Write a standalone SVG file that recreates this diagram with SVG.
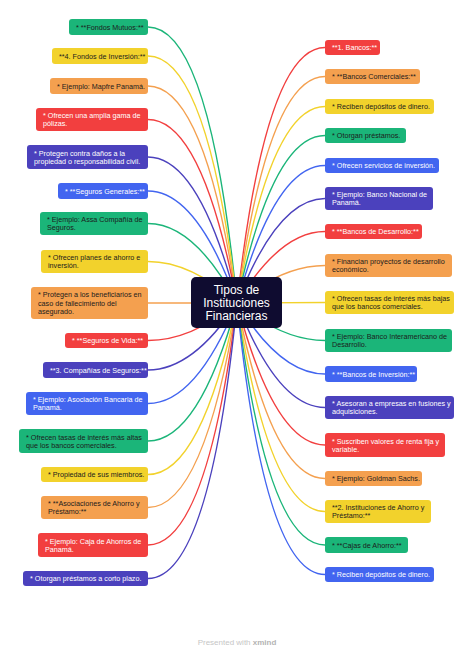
<svg xmlns="http://www.w3.org/2000/svg" width="474" height="654" viewBox="0 0 474 654">
<style>
.red{fill:#F23F3F}.orange{fill:#F4A04F}.yellow{fill:#F2D22C}.green{fill:#1BB579}.blue{fill:#4265F0}.indigo{fill:#4B41BD}
.sr{stroke:#F23F3F}.so{stroke:#F4A04F}.sy{stroke:#F2D22C}.sg{stroke:#1BB579}.sb{stroke:#4265F0}.si{stroke:#4B41BD}
#connectors path{fill:none;stroke-width:1.4}
.t{font-family:"Liberation Sans",Arial,sans-serif;font-size:7.2px}
.d{fill:#1c1c1c}.w{fill:#ffffff}
.root{font-family:"Liberation Sans",Arial,sans-serif;font-size:12px;fill:#ffffff;text-anchor:middle}
</style>
<rect width="474" height="654" fill="#ffffff"/>
<g id="connectors">
<path class="sg" d="M237,303 Q209.7,27 148,27"/>
<path class="sy" d="M237,303 Q207.4,56 148,56"/>
<path class="so" d="M237,303 Q205,86 148,86"/>
<path class="sr" d="M237,303 Q202.4,119.5 148,119.5"/>
<path class="si" d="M237,303 Q199.5,157 148,157"/>
<path class="sb" d="M237,303 Q196.8,191 148,191"/>
<path class="sg" d="M237,303 Q194.3,223.5 148,223.5"/>
<path class="sy" d="M237,303 Q191.3,261.5 148,261.5"/>
<path class="so" d="M237,303 L148,303"/>
<path class="sr" d="M237,303 Q191,340.5 148,340.5"/>
<path class="si" d="M237,303 Q193.3,370 148,370"/>
<path class="sb" d="M237,303 Q195.9,403.5 148,403.5"/>
<path class="sg" d="M237,303 Q198.8,441 148,441"/>
<path class="sy" d="M237,303 Q201.5,474.5 148,474.5"/>
<path class="so" d="M237,303 Q204.1,507.5 148,507.5"/>
<path class="sr" d="M237,303 Q207,545 148,545"/>
<path class="si" d="M237,303 Q209.6,578.5 148,578.5"/>
<path class="sr" d="M237,303 Q265.6,47.5 325,47.5"/>
<path class="so" d="M237,303 Q267.9,76.5 325,76.5"/>
<path class="sy" d="M237,303 Q270.2,106.5 325,106.5"/>
<path class="sg" d="M237,303 Q272.5,135.5 325,135.5"/>
<path class="sb" d="M237,303 Q274.8,165.5 325,165.5"/>
<path class="si" d="M237,303 Q277.3,198.5 325,198.5"/>
<path class="sr" d="M237,303 Q279.9,231.5 325,231.5"/>
<path class="so" d="M237,303 Q282.5,265.5 325,265.5"/>
<path class="sy" d="M237,303 L325,302.5"/>
<path class="sg" d="M237,303 Q282.5,340.5 325,340.5"/>
<path class="sb" d="M237,303 Q279.9,374 325,374"/>
<path class="si" d="M237,303 Q277.3,407.5 325,407.5"/>
<path class="sr" d="M237,303 Q274.4,445 325,445"/>
<path class="so" d="M237,303 Q271.8,478.5 325,478.5"/>
<path class="sy" d="M237,303 Q269.3,511.5 325,511.5"/>
<path class="sg" d="M237,303 Q266.7,545 325,545"/>
<path class="sb" d="M237,303 Q264.4,574.5 325,574.5"/>
</g>
<g id="root"><rect x="191" y="277" width="91" height="51" rx="5" fill="#0F0C30"/>
<text class="root"><tspan x="236.5" y="294">Tipos de</tspan><tspan x="236.5" y="307">Instituciones</tspan><tspan x="236.5" y="320">Financieras</tspan></text></g>
<g id="L1"><rect class="green" x="69" y="19" width="79" height="16" rx="3"/><text class="t d" x="76" y="29.6">* **Fondos Mutuos:**</text></g>
<g id="L2"><rect class="yellow" x="52" y="48" width="96" height="16" rx="3"/><text class="t d" x="59" y="58.6">**4. Fondos de Inversión:**</text></g>
<g id="L3"><rect class="orange" x="50" y="78" width="98" height="16" rx="3"/><text class="t d" x="57" y="88.6">* Ejemplo: Mapfre Panamá.</text></g>
<g id="L4"><rect class="red" x="36" y="108" width="112" height="23" rx="3"/><text class="t w"><tspan x="43" y="118">* Ofrecen una amplia gama de</tspan><tspan x="43" y="126.2">pólizas.</tspan></text></g>
<g id="L5"><rect class="indigo" x="27" y="145" width="121" height="24" rx="3"/><text class="t w"><tspan x="34" y="155.5">* Protegen contra daños a la</tspan><tspan x="34" y="163.7">propiedad o responsabilidad civil.</tspan></text></g>
<g id="L6"><rect class="blue" x="58" y="183" width="90" height="16" rx="3"/><text class="t w" x="65" y="193.6">* **Seguros Generales:**</text></g>
<g id="L7"><rect class="green" x="40" y="212" width="108" height="23" rx="3"/><text class="t d"><tspan x="47" y="222">* Ejemplo: Assa Compañía de</tspan><tspan x="47" y="230.2">Seguros.</tspan></text></g>
<g id="L8"><rect class="yellow" x="41" y="250" width="107" height="23" rx="3"/><text class="t d"><tspan x="48" y="260">* Ofrecen planes de ahorro e</tspan><tspan x="48" y="268.2">inversión.</tspan></text></g>
<g id="L9"><rect class="orange" x="31" y="287" width="117" height="32" rx="3"/><text class="t d"><tspan x="38" y="297.4">* Protegen a los beneficiarios en</tspan><tspan x="38" y="305.6">caso de fallecimiento del</tspan><tspan x="38" y="313.8">asegurado.</tspan></text></g>
<g id="L10"><rect class="red" x="65" y="333" width="83" height="15" rx="3"/><text class="t w" x="72" y="343.1">* **Seguros de Vida:**</text></g>
<g id="L11"><rect class="indigo" x="43" y="362" width="105" height="16" rx="3"/><text class="t w" x="50" y="372.6">**3. Compañías de Seguros:**</text></g>
<g id="L12"><rect class="blue" x="26" y="392" width="122" height="23" rx="3"/><text class="t w"><tspan x="33" y="402">* Ejemplo: Asociación Bancaria de</tspan><tspan x="33" y="410.2">Panamá.</tspan></text></g>
<g id="L13"><rect class="green" x="19" y="429" width="129" height="24" rx="3"/><text class="t d"><tspan x="26" y="439.5">* Ofrecen tasas de interés más altas</tspan><tspan x="26" y="447.7">que los bancos comerciales.</tspan></text></g>
<g id="L14"><rect class="yellow" x="41" y="467" width="107" height="15" rx="3"/><text class="t d" x="48" y="477.1">* Propiedad de sus miembros.</text></g>
<g id="L15"><rect class="orange" x="41" y="496" width="107" height="23" rx="3"/><text class="t d"><tspan x="48" y="506">* **Asociaciones de Ahorro y</tspan><tspan x="48" y="514.2">Préstamo:**</tspan></text></g>
<g id="L16"><rect class="red" x="38" y="533" width="110" height="24" rx="3"/><text class="t w"><tspan x="45" y="543.5">* Ejemplo: Caja de Ahorros de</tspan><tspan x="45" y="551.7">Panamá.</tspan></text></g>
<g id="L17"><rect class="indigo" x="23" y="571" width="125" height="15" rx="3"/><text class="t w" x="30" y="581.1">* Otorgan préstamos a corto plazo.</text></g>
<g id="R1"><rect class="red" x="325" y="40" width="55" height="15" rx="3"/><text class="t w" x="332" y="50.1">**1. Bancos:**</text></g>
<g id="R2"><rect class="orange" x="325" y="69" width="95" height="15" rx="3"/><text class="t d" x="332" y="79.1">* **Bancos Comerciales:**</text></g>
<g id="R3"><rect class="yellow" x="325" y="99" width="109" height="15" rx="3"/><text class="t d" x="332" y="109.1">* Reciben depósitos de dinero.</text></g>
<g id="R4"><rect class="green" x="325" y="128" width="81" height="15" rx="3"/><text class="t d" x="332" y="138.1">* Otorgan préstamos.</text></g>
<g id="R5"><rect class="blue" x="325" y="158" width="114" height="15" rx="3"/><text class="t w" x="332" y="168.1">* Ofrecen servicios de inversión.</text></g>
<g id="R6"><rect class="indigo" x="325" y="187" width="108" height="23" rx="3"/><text class="t w"><tspan x="332" y="197">* Ejemplo: Banco Nacional de</tspan><tspan x="332" y="205.2">Panamá.</tspan></text></g>
<g id="R7"><rect class="red" x="325" y="224" width="97" height="15" rx="3"/><text class="t w" x="332" y="234.1">* **Bancos de Desarrollo:**</text></g>
<g id="R8"><rect class="orange" x="325" y="254" width="127" height="23" rx="3"/><text class="t d"><tspan x="332" y="264">* Financian proyectos de desarrollo</tspan><tspan x="332" y="272.2">económico.</tspan></text></g>
<g id="R9"><rect class="yellow" x="325" y="291" width="129" height="23" rx="3"/><text class="t d"><tspan x="332" y="301">* Ofrecen tasas de interés más bajas</tspan><tspan x="332" y="309.2">que los bancos comerciales.</tspan></text></g>
<g id="R10"><rect class="green" x="325" y="329" width="127" height="23" rx="3"/><text class="t d"><tspan x="332" y="339">* Ejemplo: Banco Interamericano de</tspan><tspan x="332" y="347.2">Desarrollo.</tspan></text></g>
<g id="R11"><rect class="blue" x="325" y="366" width="92" height="16" rx="3"/><text class="t w" x="332" y="376.6">* **Bancos de Inversión:**</text></g>
<g id="R12"><rect class="indigo" x="325" y="396" width="129" height="23" rx="3"/><text class="t w"><tspan x="332" y="406">* Asesoran a empresas en fusiones y</tspan><tspan x="332" y="414.2">adquisiciones.</tspan></text></g>
<g id="R13"><rect class="red" x="325" y="433" width="120" height="24" rx="3"/><text class="t w"><tspan x="332" y="443.5">* Suscriben valores de renta fija y</tspan><tspan x="332" y="451.7">variable.</tspan></text></g>
<g id="R14"><rect class="orange" x="325" y="471" width="97" height="15" rx="3"/><text class="t d" x="332" y="481.1">* Ejemplo: Goldman Sachs.</text></g>
<g id="R15"><rect class="yellow" x="325" y="500" width="106" height="23" rx="3"/><text class="t d"><tspan x="332" y="510">**2. Instituciones de Ahorro y</tspan><tspan x="332" y="518.2">Préstamo:**</tspan></text></g>
<g id="R16"><rect class="green" x="325" y="537" width="83" height="16" rx="3"/><text class="t d" x="332" y="547.6">* **Cajas de Ahorro:**</text></g>
<g id="R17"><rect class="blue" x="325" y="567" width="109" height="15" rx="3"/><text class="t w" x="332" y="577.1">* Reciben depósitos de dinero.</text></g>
<text x="237" y="645" text-anchor="middle" font-family="Liberation Sans, Arial, sans-serif" font-size="8" fill="#c6c6c6">Presented with <tspan font-weight="bold" fill="#b4b4b4">xmind</tspan></text>
</svg>
